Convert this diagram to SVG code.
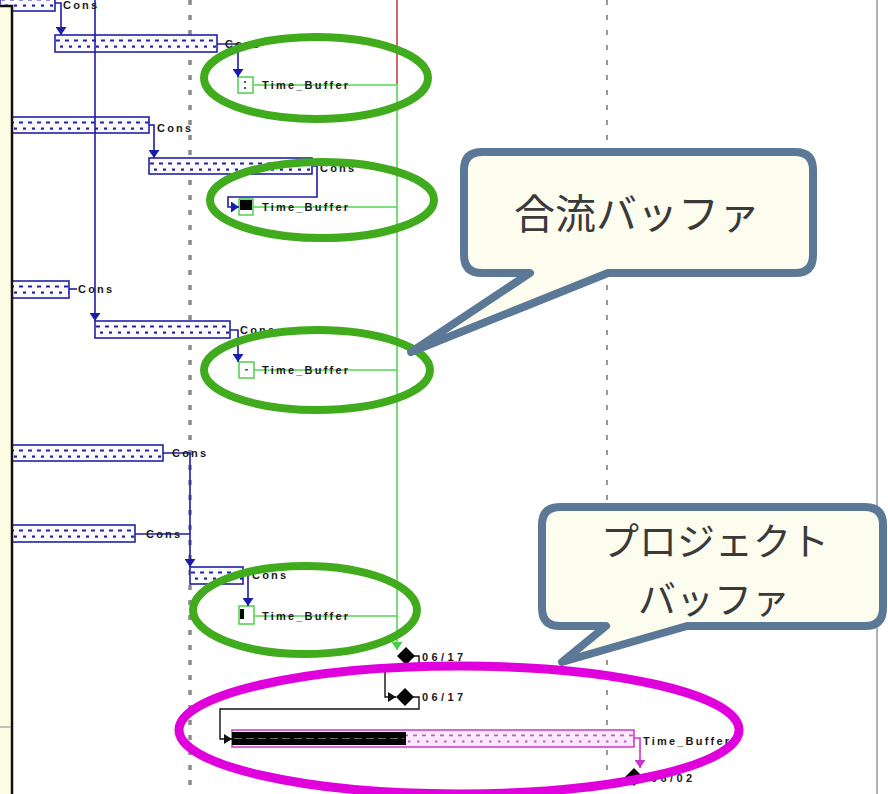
<svg xmlns="http://www.w3.org/2000/svg" width="888" height="794" viewBox="0 0 888 794">
  <style>
    .bar { fill: url(#dotsBlue); stroke: #2222a6; stroke-width: 1.6; }
    .pbar { fill: url(#dotsPink); stroke: #cc44cc; stroke-width: 1.6; }
    .cb { fill: none; stroke: #1c1caa; stroke-width: 1.6; }
    .ck { fill: none; stroke: #111; stroke-width: 1.4; }
    .cg { fill: none; stroke: #55d655; stroke-width: 1.6; }
    .cm { fill: none; stroke: #cc33cc; stroke-width: 1.6; }
    .gbox { fill: #fff; stroke: #44cc44; stroke-width: 1.4; }
    .lb { font-family: "Liberation Sans", Arial, sans-serif; font-weight: bold; font-size: 11px; letter-spacing: 2.2px; fill: #1a1a1a; }
    .dt { font-family: "Liberation Sans", Arial, sans-serif; font-weight: bold; font-size: 11px; letter-spacing: 3.4px; fill: #1a1a1a; }
    .ring { fill: none; stroke: #40ab1d; stroke-width: 8; }
    .ringm { fill: none; stroke: #e000dc; stroke-width: 9; }
    .call { fill: #fdfdef; stroke: #5c7897; stroke-width: 8; stroke-linejoin: round; }
    .ct { font-family: "Noto Sans CJK JP", "Noto Sans CJK SC", sans-serif; font-size: 41px; fill: #3a3a3a; text-anchor: middle; }
    .ct2 { font-family: "Noto Sans CJK JP", "Noto Sans CJK SC", sans-serif; font-size: 38px; fill: #3a3a3a; text-anchor: middle; }
  </style>
  <defs>
    <pattern id="dotsBlue" patternUnits="userSpaceOnUse" width="9" height="17">
      <rect width="9" height="17" fill="#fbfbff"/>
      <rect x="1" y="4.5" width="4" height="2" fill="#2424a0"/>
      <rect x="5" y="10.5" width="3" height="2.2" fill="#2424a0"/>
    </pattern>
    <pattern id="dotsPink" patternUnits="userSpaceOnUse" width="9" height="17">
      <rect width="9" height="17" fill="#fde9fd"/>
      <rect x="1" y="4.5" width="4" height="1.8" fill="#cc55cc"/>
      <rect x="5" y="10.5" width="2.5" height="2" fill="#cc55cc"/>
    </pattern>
    <marker id="ab" markerUnits="userSpaceOnUse" markerWidth="8" markerHeight="11" refX="8" refY="5.5" orient="auto">
      <path d="M0,0 L8,5.5 L0,11 Z" fill="#1c1caa"/>
    </marker>
    <marker id="ag" markerUnits="userSpaceOnUse" markerWidth="8" markerHeight="11" refX="8" refY="5.5" orient="auto">
      <path d="M0,0 L8,5.5 L0,11 Z" fill="#44d044"/>
    </marker>
    <marker id="ak" markerUnits="userSpaceOnUse" markerWidth="8" markerHeight="10" refX="8" refY="5" orient="auto">
      <path d="M0,0 L8,5 L0,10 Z" fill="#111"/>
    </marker>
    <marker id="am" markerUnits="userSpaceOnUse" markerWidth="8" markerHeight="11" refX="8" refY="5.5" orient="auto">
      <path d="M0,0 L8,5.5 L0,11 Z" fill="#cc33cc"/>
    </marker>
  </defs>

  <rect width="888" height="794" fill="#fff"/>

  <!-- timescale gridlines -->
  <g id="grid">
    <line x1="190" y1="0" x2="190" y2="794" stroke="#8a8a8a" stroke-width="3.5" stroke-dasharray="5 10"/>
    <line x1="607" y1="0" x2="607" y2="794" stroke="#777" stroke-width="1.5" stroke-dasharray="5 10"/>
    <line x1="877" y1="0" x2="877" y2="794" stroke="#999" stroke-width="1.5"/>
    <line x1="397" y1="0" x2="397" y2="84" stroke="#cc3333" stroke-width="1.5"/>
  </g>

  <!-- task bars -->
  <g id="bar1" transform="translate(0,-6)"><rect class="bar" width="55" height="17"/></g>
  <g id="bar2" transform="translate(55,35)"><rect class="bar" width="162" height="17"/></g>
  <g id="bar3" transform="translate(0,117)"><rect class="bar" width="149" height="16"/></g>
  <g id="bar4" transform="translate(149,158)"><rect class="bar" width="163" height="16"/></g>
  <g id="bar5" transform="translate(0,281)"><rect class="bar" width="69" height="17"/></g>
  <g id="bar6" transform="translate(95,321)"><rect class="bar" width="135" height="17"/></g>
  <g id="bar7" transform="translate(0,445)"><rect class="bar" width="163" height="16"/></g>
  <g id="bar8" transform="translate(0,525)"><rect class="bar" width="135" height="17"/></g>
  <g id="bar9" transform="translate(190,567)"><rect class="bar" width="53" height="17"/></g>

  <!-- project buffer bar -->
  <g id="projectBuffer" transform="translate(232,730)">
    <rect class="pbar" width="402" height="17"/>
    <rect x="0" y="2" width="174" height="13" fill="#050505"/>
    <line x1="2" y1="8.5" x2="172" y2="8.5" stroke="#666" stroke-width="1" stroke-dasharray="8 4"/>
  </g>

  <!-- feeding buffers -->
  <g id="buffer1"><rect class="gbox" x="238" y="77" width="15" height="16"/><rect x="244" y="81" width="2" height="2" fill="#555"/><rect x="244" y="87" width="2" height="2" fill="#555"/></g>
  <g id="buffer2"><rect class="gbox" x="239" y="199" width="14" height="16"/><rect x="240" y="200" width="12" height="10" fill="#050505"/></g>
  <g id="buffer3"><rect class="gbox" x="239" y="362" width="15" height="16"/><rect x="245" y="369" width="3" height="1.5" fill="#555"/></g>
  <g id="buffer4"><rect class="gbox" x="239" y="606" width="15" height="18"/><rect x="240" y="609" width="4" height="10" fill="#050505"/></g>

  <!-- milestones -->
  <g id="milestone1"><path d="M406,647 L415,656 L406,665 L397,656 Z" fill="#050505"/></g>
  <g id="milestone2"><path d="M405,688 L414,697 L405,706 L396,697 Z" fill="#050505"/></g>
  <g id="milestone3"><path d="M634,768 L643,777 L634,786 L625,777 Z" fill="#050505"/></g>

  <!-- links -->
  <g id="connectors">
    <path class="cb" d="M55,3 H61 V35" marker-end="url(#ab)"/>
    <path class="cb" d="M217,44 H238 V77" marker-end="url(#ab)"/>
    <path class="cb" d="M149,125 H154 V158" marker-end="url(#ab)"/>
    <path class="cb" d="M312,166 H317 V197 H228 V207 H239" marker-end="url(#ab)"/>
    <path class="cb" d="M95,0 V321" marker-end="url(#ab)"/>
    <path class="cb" d="M69,289 H77"/>
    <path class="cb" d="M230,330 H238 V362" marker-end="url(#ab)"/>
    <path class="cb" d="M163,453 H190 V567" marker-end="url(#ab)"/>
    <path class="cb" d="M135,534 H190"/>
    <path class="cb" d="M243,575 H248 V606" marker-end="url(#ab)"/>
    <path class="cg" d="M253,85 H397"/>
    <path class="cg" d="M253,207 H397"/>
    <path class="cg" d="M254,370 H397"/>
    <path class="cg" d="M254,616 H397"/>
    <path class="cg" d="M397,84 V650" stroke-width="2" marker-end="url(#ag)"/>
    <path class="ck" d="M414,656 H419 V669 H385 V697 H396" marker-end="url(#ak)"/>
    <path class="ck" d="M413,697 H419 V709 H220 V739 H232" marker-end="url(#ak)"/>
    <path class="cm" d="M634,738 H640 V768" marker-end="url(#am)"/>
  </g>

  <!-- labels -->
  <g id="labels">
    <text class="lb" x="63" y="9">Cons</text>
    <text class="lb" x="225" y="48">Cons</text>
    <text class="lb" x="157" y="132">Cons</text>
    <text class="lb" x="320" y="172">Cons</text>
    <text class="lb" x="78" y="293">Cons</text>
    <text class="lb" x="240" y="334">Cons</text>
    <text class="lb" x="172" y="457">Cons</text>
    <text class="lb" x="146" y="538">Cons</text>
    <text class="lb" x="252" y="579">Cons</text>
    <text class="lb" x="262" y="89">Time_Buffer</text>
    <text class="lb" x="262" y="211">Time_Buffer</text>
    <text class="lb" x="262" y="374">Time_Buffer</text>
    <text class="lb" x="262" y="620">Time_Buffer</text>
    <text class="lb" x="643" y="745">Time_Buffer</text>
    <text class="dt" x="422" y="661">06/17</text>
    <text class="dt" x="422" y="701">06/17</text>
    <text class="dt" x="651" y="782">06/02</text>
  </g>

  <!-- side table edge -->
  <g id="sidePanel">
    <rect x="-3" y="6" width="15" height="800" fill="#fdfde6" stroke="#111" stroke-width="2.5"/>
    <line x1="0" y1="727" x2="11" y2="727" stroke="#999" stroke-width="1.2"/>
  </g>

  <!-- highlight rings -->
  <g id="rings">
    <ellipse class="ring" cx="316" cy="78" rx="112" ry="41"/>
    <ellipse class="ring" cx="322" cy="200" rx="112" ry="38"/>
    <ellipse class="ring" cx="317" cy="370" rx="113" ry="40"/>
    <ellipse class="ring" cx="305" cy="610" rx="112" ry="44"/>
    <ellipse class="ringm" cx="459" cy="730" rx="280" ry="64"/>
  </g>

  <!-- callouts -->
  <g id="calloutFeeding">
    <path class="call" d="M482,152 H795 Q813,152 813,170 V255 Q813,273 795,273 H608 L411,352 L530,273 H482 Q464,273 464,255 V170 Q464,152 482,152 Z"/>
    <text class="ct" x="637" y="229">合流バッファ</text>
  </g>
  <g id="calloutProject">
    <path class="call" d="M560,507 H865 Q883,507 883,525 V608 Q883,626 865,626 H687 L562,662 L606,626 H560 Q542,626 542,608 V525 Q542,507 560,507 Z"/>
    <text class="ct2" x="715" y="555">プロジェクト</text>
    <text class="ct2" x="714" y="613">バッファ</text>
  </g>
</svg>
